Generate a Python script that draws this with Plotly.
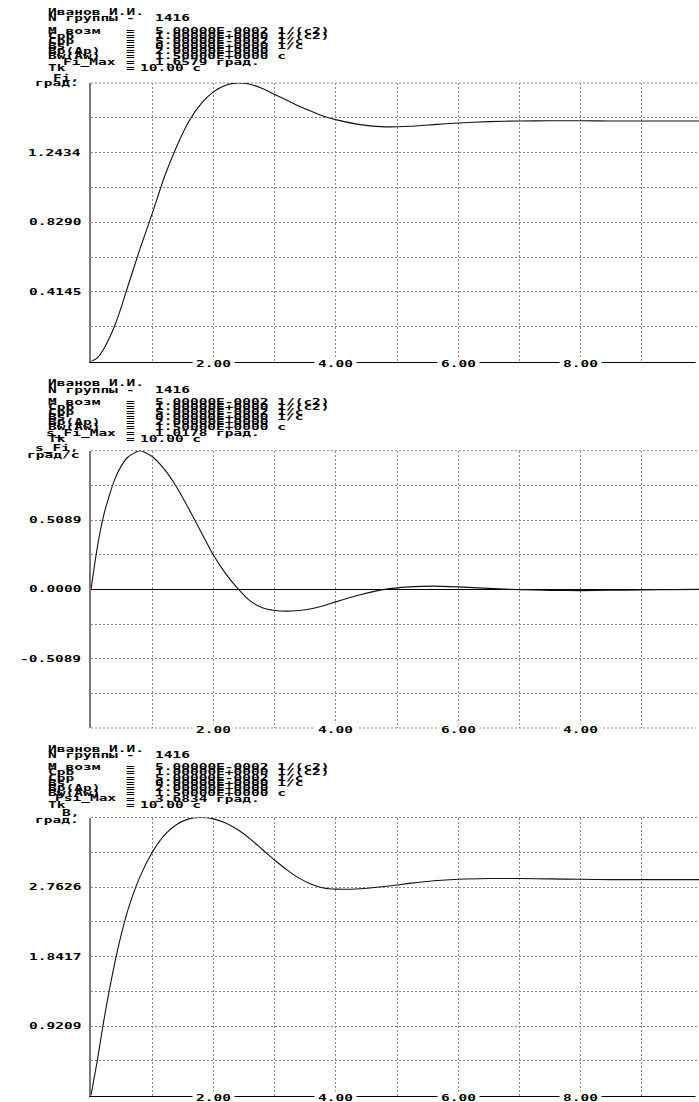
import plotly.graph_objects as go

# ---------------- data ----------------
T = [0, 0.1, 0.2, 0.3, 0.4, 0.5, 0.6, 0.8, 1.0, 1.2, 1.4, 1.6, 1.8, 2.0, 2.2, 2.4,
     2.6, 2.8, 3.0, 3.2, 3.4, 3.6, 3.8, 4.0, 4.4, 4.8, 5.2, 5.6, 6.0, 6.5, 7.0,
     7.5, 8.0, 8.5, 9.0, 9.5, 10.0]

FI = [0, 0.02, 0.07, 0.14, 0.225, 0.33, 0.445, 0.67, 0.88, 1.10, 1.28, 1.43,
      1.535, 1.605, 1.645, 1.6579, 1.65, 1.625, 1.59, 1.555, 1.52, 1.49, 1.46,
      1.44, 1.41, 1.397, 1.40, 1.41, 1.42, 1.428, 1.432, 1.433, 1.433, 1.432,
      1.432, 1.432, 1.432]

S_FI = [0, 0.30, 0.53, 0.69, 0.82, 0.91, 0.97, 1.0178, 0.975, 0.88, 0.75,
        0.59, 0.42, 0.252, 0.115, 0.005, -0.085, -0.135, -0.155, -0.16,
        -0.155, -0.142, -0.12, -0.092, -0.04, 0.0, 0.018, 0.024, 0.018, 0.007,
        -0.002, -0.008, -0.009, -0.007, -0.004, -0.002, 0.0]

B = [0, 0.45, 0.95, 1.40, 1.80, 2.15, 2.45, 2.90, 3.22, 3.45, 3.59, 3.665,
     3.683, 3.665, 3.61, 3.52, 3.40, 3.26, 3.12, 2.99, 2.88, 2.80, 2.75, 2.735,
     2.74, 2.77, 2.81, 2.845, 2.865, 2.875, 2.875, 2.87, 2.865, 2.86, 2.86,
     2.86, 2.86]

SERIES = [FI, S_FI, B]

# y grid values and labels per panel
GRID_1 = [0, 0.2072, 0.4145, 0.6217, 0.8290, 1.0362, 1.2434, 1.4506, 1.6579]
GRID_2 = [-1.0178, -0.7634, -0.5089, -0.2545, 0.0, 0.2545, 0.5089, 0.7634, 1.0178]
GRID_3 = [0, 0.4604, 0.9209, 1.3813, 1.8417, 2.3022, 2.7626, 3.2230, 3.6834]
GRIDS = [GRID_1, GRID_2, GRID_3]

YLAB_1 = ["0.4145", "0.8290", "1.2434"]
YLAB_2 = ["0.5089", "0.0000", "-0.5089"]
YLAB_3 = ["0.9209", "1.8417", "2.7626"]
YLABS = [YLAB_1, YLAB_2, YLAB_3]

XGRID = [1, 2, 3, 4, 5, 6, 7, 8, 9, 10]
XLAB_POS = [2, 4, 6, 8]
XLAB_1 = ["2.00", "4.00", "6.00", "8.00"]
XLAB_2 = ["2.00", "4.00", "6.00", "4.00"]
XLAB_3 = ["2.00", "4.00", "6.00", "8.00"]
XLABS = [XLAB_1, XLAB_2, XLAB_3]
XLAB_LAST = "10.00"

AXIS_TITLES = [("Fi,", "град."), ("s_Fi,", "град/с"), ("B,", "град.")]

HEAD_NAMES = ["Иванов И.И.", "N группы", "M возм", "Cpb", "Cpp", "Bs",
              "Bp(Ap)", "Bw(Aw)", None, "Tk"]
HEAD_SIGNS = ["", "-", "=", "=", "=", "=", "=", "=", "=", "="]
HEAD_VALUES = ["", "1416", "5.00000E-0002 1/(с2)", "1.00000E+0000 1/(с2)",
               "5.00000E-0002 1/с", "0.00000E+0000 1/с", "2.00000E+0000",
               "1.50000E+0000 с", None, "10.00 с"]
MAX_NAMES = ["Fi_Max", "s_Fi_Max", "Psi_Max"]
MAX_VALUES = ["1.6579 град.", "1.0178 град.", "3.6834 град."]

# ---------------- geometry ----------------
W, H = 699, 1102
X0 = 91            # left edge of plot area (px)
PX_PER_S = 61.2    # px per second
PANELS = [(83.0, 361.5), (450.7, 728.0), (817.5, 1095.5)]  # top, bottom px
HEAD_TOP = [12.0, 383.0, 748.5]        # y of first header line per panel
ROW_OFF = [0, 6.5, 18.8, 23.9, 29.0, 34.1, 39.2, 44.3, 50.2, 56.3]
TITLE_Y = [(77.5, 83.5), (448.0, 454.5), (813.0, 819.5)]

FONT = "DejaVu Sans Mono"
FS = 14.5
GRID_COLOR = "#8a8a8a"


def py(ypx):
    return 1 - ypx / H


def pxx(xpx):
    return xpx / W


fig = go.Figure()
annotations = []
shapes = []

for i, (top, bot) in enumerate(PANELS):
    n = "" if i == 0 else str(i + 1)
    xa, ya = "xaxis" + n, "yaxis" + n
    xr, yr = "x" + n, "y" + n
    grid = GRIDS[i]
    fig.add_trace(go.Scatter(x=T, y=SERIES[i], mode="lines", xaxis=xr, yaxis=yr,
                             line=dict(color="#111111", width=1.1, shape="spline",
                                       smoothing=0.6),
                             showlegend=False, hoverinfo="skip"))
    fig.layout[xa] = dict(domain=[X0 / W, 1], range=[0, (W - X0) / PX_PER_S],
                          anchor=yr, tickvals=XGRID, showticklabels=False,
                          ticks="", showgrid=True, gridcolor=GRID_COLOR,
                          griddash="2px,2px", gridwidth=1, zeroline=False,
                          showline=(i != 1), linecolor="#000000", linewidth=1)
    fig.layout[ya] = dict(domain=[py(bot), py(top)], range=[grid[0], grid[-1]],
                          anchor=xr, tickvals=grid, showticklabels=False,
                          ticks="", showgrid=True, gridcolor=GRID_COLOR,
                          griddash="2px,2px", gridwidth=1,
                          zeroline=(i == 1), zerolinecolor="#000000",
                          zerolinewidth=1, showline=True, linecolor="#7a7a7a",
                          linewidth=2)
    shapes.append(dict(type="line", xref=xr + " domain", yref=yr + " domain",
                       x0=0, x1=1, y0=1, y1=1, layer="below",
                       line=dict(color=GRID_COLOR, width=1, dash="2px,2px")))
    if i == 1:
        shapes.append(dict(type="line", xref=xr + " domain", yref=yr + " domain",
                           x0=0, x1=1, y0=0, y1=0, layer="below",
                           line=dict(color=GRID_COLOR, width=1, dash="2px,2px")))

    font = dict(family=FONT, size=FS, color="#000000", weight="bold")

    for v_txt in YLABS[i]:
        annotations.append(dict(text=v_txt, x=pxx(83), xref="paper", xanchor="right",
                                y=float(v_txt), yref=yr, yanchor="middle",
                                showarrow=False, font=font))
    for xv, xt in zip(XLAB_POS, XLABS[i]):
        annotations.append(dict(text=xt, x=xv, xref=xr, xanchor="center",
                                y=0, yref=yr + " domain", yanchor="middle",
                                yshift=-2, showarrow=False, font=font,
                                bgcolor="#ffffff", borderpad=3))
    annotations.append(dict(text=XLAB_LAST, x=pxx(695), xref="paper", xanchor="left",
                            y=0, yref=yr + " domain", yanchor="middle", yshift=-2,
                            showarrow=False, font=font, bgcolor="#ffffff",
                            borderpad=3))
    t1, t2 = AXIS_TITLES[i]
    ty1, ty2 = TITLE_Y[i]
    annotations.append(dict(text=t1, x=pxx(81), xref="paper", xanchor="right",
                            y=py(ty1), yref="paper", yanchor="middle",
                            showarrow=False, font=font))
    annotations.append(dict(text=t2, x=pxx(81), xref="paper", xanchor="right",
                            y=py(ty2), yref="paper", yanchor="middle",
                            showarrow=False, font=font))
    for r in range(10):
        yy = py(HEAD_TOP[i] + ROW_OFF[r])
        name = HEAD_NAMES[r]
        if name is None:
            annotations.append(dict(text=MAX_NAMES[i], x=pxx(118), xref="paper",
                                    xanchor="right", y=yy, yref="paper",
                                    yanchor="middle", showarrow=False, font=font))
        else:
            annotations.append(dict(text=name, x=pxx(46), xref="paper",
                                    xanchor="left", y=yy, yref="paper",
                                    yanchor="middle", showarrow=False, font=font))
        if HEAD_SIGNS[r]:
            annotations.append(dict(text=HEAD_SIGNS[r], x=pxx(130), xref="paper",
                                    xanchor="center", y=yy, yref="paper",
                                    yanchor="middle", showarrow=False, font=font))
        val = HEAD_VALUES[r] if HEAD_VALUES[r] is not None else MAX_VALUES[i]
        if val:
            x_start = 138 if r == 9 else 153
            annotations.append(dict(text=val, x=pxx(x_start), xref="paper",
                                    xanchor="left", y=yy, yref="paper",
                                    yanchor="middle", showarrow=False, font=font))

fig.update_layout(width=W, height=H, margin=dict(l=0, r=0, t=0, b=0),
                  paper_bgcolor="#ffffff", plot_bgcolor="#ffffff",
                  annotations=annotations, shapes=shapes, showlegend=False)

POST = ("document.body.style.margin='0';document.body.style.padding='0';"
        "var s=document.createElement('style');"
        "s.textContent='html,body{margin:0;padding:0;overflow:hidden;}"
        ".annotation-text-g{transform-box:fill-box;"
        "transform-origin:center;transform:scaleY(0.56);}';"
        "document.head.appendChild(s);")

fig.write_html("out.html", post_script=POST, config={"displayModeBar": False})
